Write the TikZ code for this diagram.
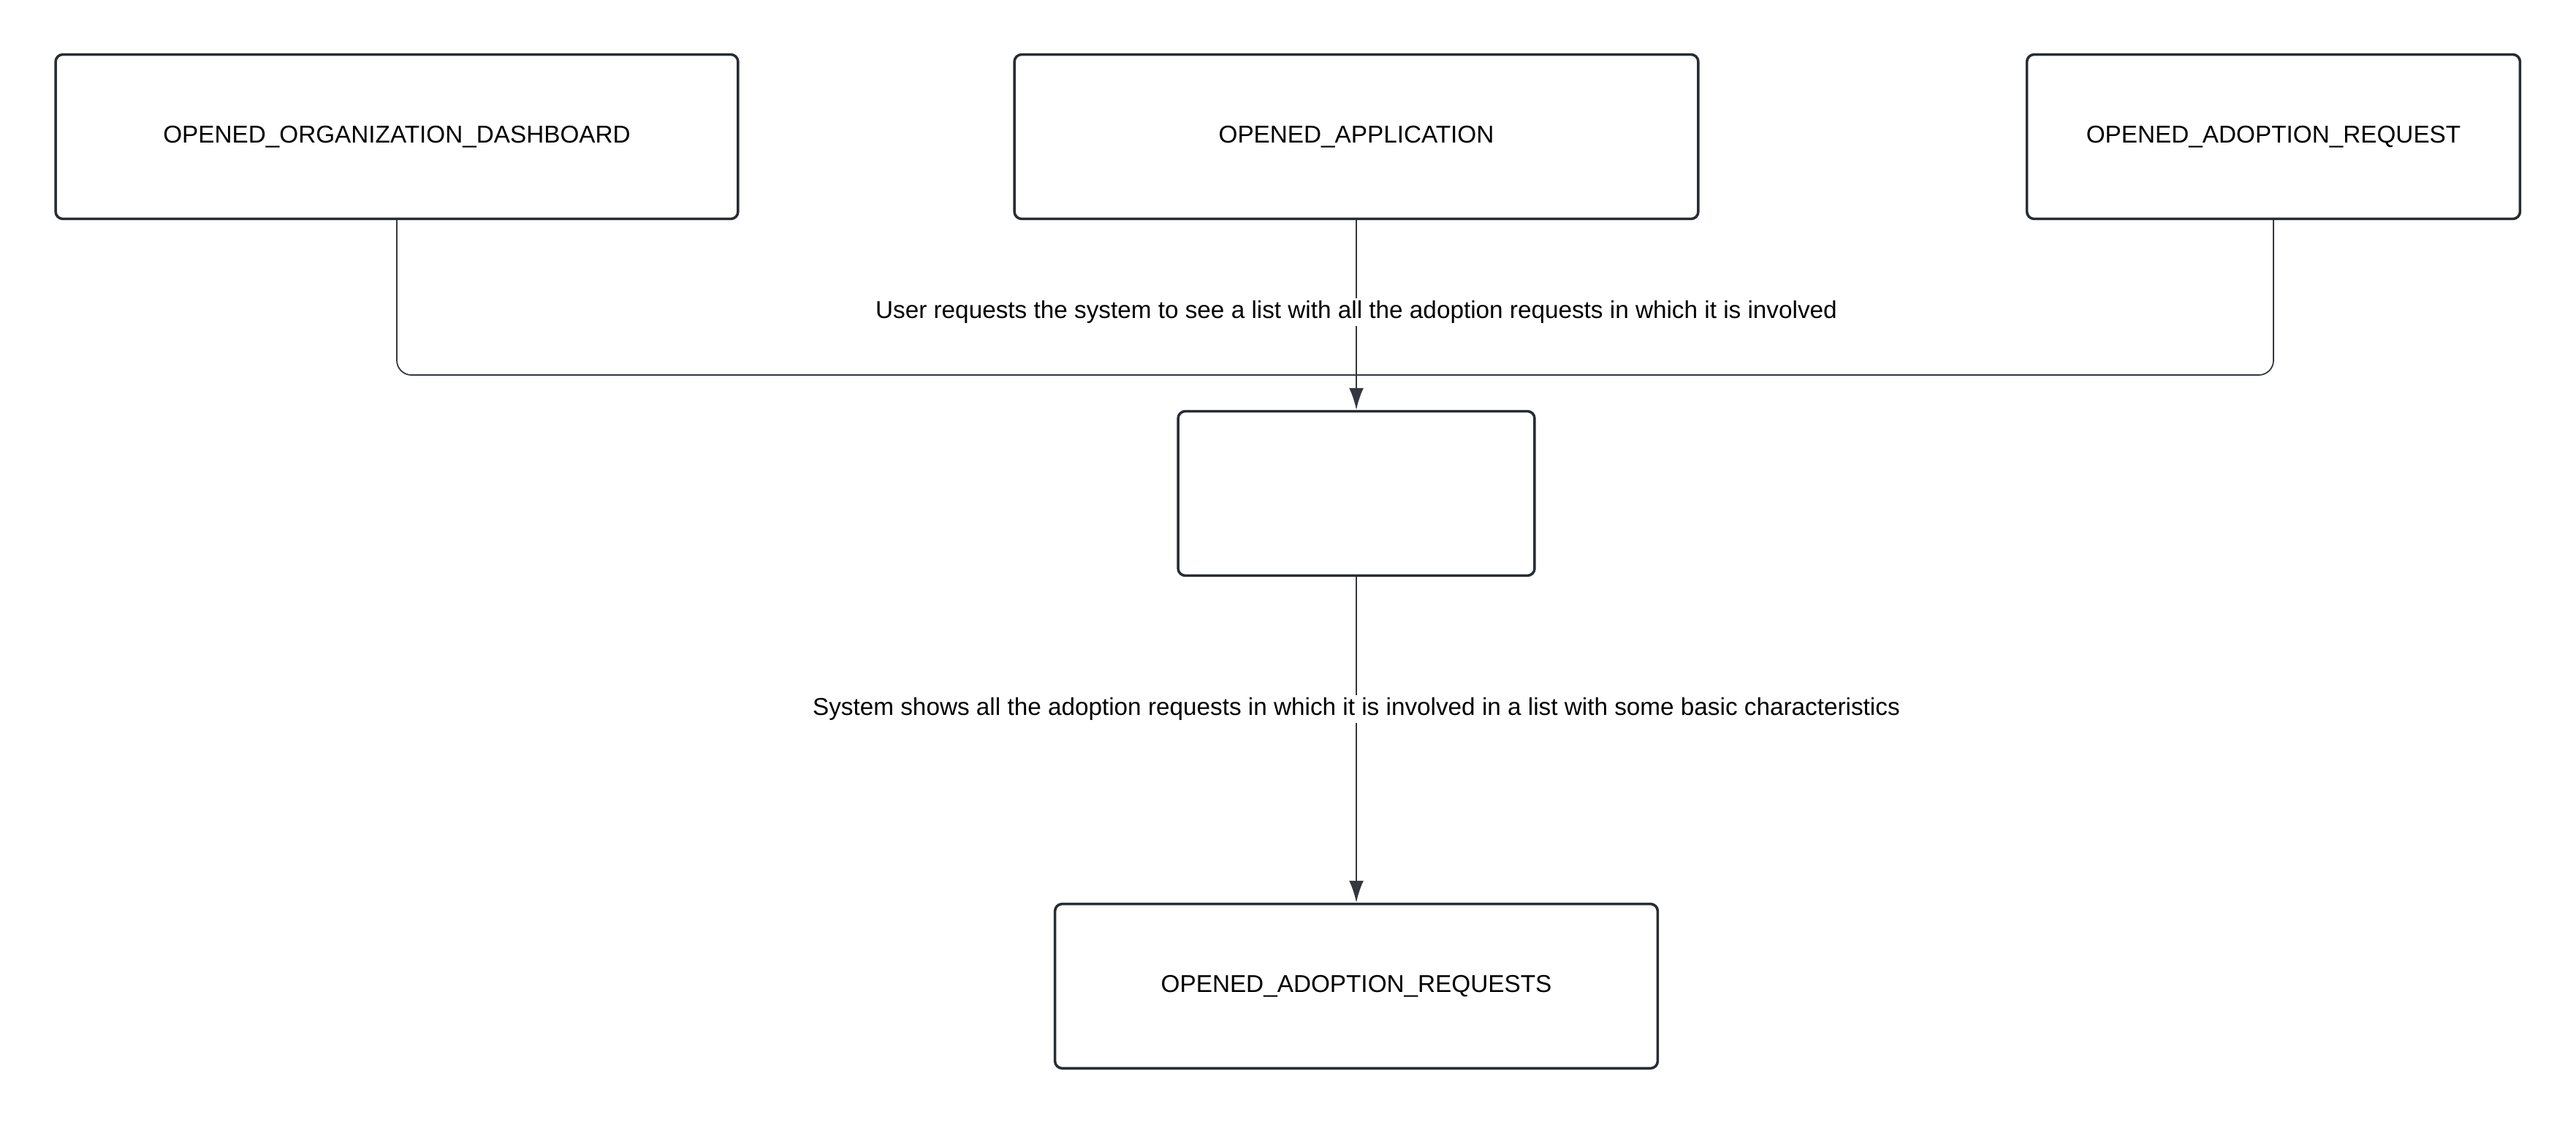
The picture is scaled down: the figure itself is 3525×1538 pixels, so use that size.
\documentclass[tikz,border=0pt]{standalone}
\usepackage{fontspec}
\setmainfont{Liberation Sans}
\usetikzlibrary{arrows.meta,positioning}
\definecolor{boxline}{HTML}{282C33}
\definecolor{flowline}{HTML}{33373F}

\begin{document}
\begin{tikzpicture}[x=0.02cm,y=-0.02cm,>={Latex[length=0.6cm,width=0.4cm]},
  state/.style={draw=boxline,line width=2pt,rounded corners=0.2cm,fill=white,
    minimum height=4.5cm,font=\fontsize{18.95}{22}\selectfont},
  flow/.style={->,draw=flowline,line width=1.6pt},
  branch/.style={draw=flowline,line width=1pt,rounded corners=0.4cm},
  action/.style={fill=white,inner sep=2pt,font=\fontsize{18.95}{22}\selectfont}]
\useasboundingbox (0,0) rectangle (3525,1538);

% States
\node[state,minimum width=18.68cm] (dash) at (543,187) {OPENED\_ORGANIZATION\_DASHBOARD};
\node[state,minimum width=18.72cm] (app) at (1856,187) {OPENED\_APPLICATION};
\node[state,minimum width=13.5cm] (req) at (3111,187) {OPENED\_ADOPTION\_REQUEST};
\node[state,minimum width=9.76cm] (mid) at (1856,675) {};
\node[state,minimum width=16.5cm] (list) at (1856,1349) {OPENED\_ADOPTION\_REQUESTS};

% Side branches joining the main flow
\coordinate (merge) at (1856,513);
\draw[branch] (dash.south) |- (merge);
\draw[branch] (req.south) |- (merge);

% Main flow
\draw[flow] (app.south) -- (mid.north)
  node[action,pos=0.485] (ask) {User requests the system to see a list with all the adoption requests in which it is involved};
\draw[flow] (mid.south) -- (list.north)
  node[action,pos=0.405] (show) {System shows all the adoption requests in which it is involved in a list with some basic characteristics};
\end{tikzpicture}
\end{document}
